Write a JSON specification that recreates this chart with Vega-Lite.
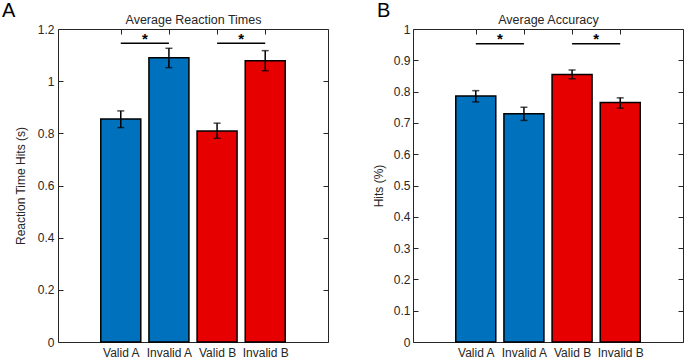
{
  "$schema": "https://vega.github.io/schema/vega-lite/v6.json",
  "autosize": {"type": "pad"},
  "padding": {"left": 2, "top": 0, "right": 0, "bottom": 0},
  "background": "white",
  "spacing": 85,
  "bounds": "flush",
  "config": {
    "font": "Liberation Sans",
    "view": {"stroke": null},
    "axis": {
      "grid": false,
      "labelFont": "Liberation Sans",
      "labelFontSize": 12,
      "labelColor": "#262626",
      "domainColor": "#262626",
      "domainWidth": 1,
      "tickColor": "#262626",
      "tickSize": -5,
      "titleFont": "Liberation Sans",
      "titleFontSize": 12,
      "titleFontWeight": "normal",
      "titleColor": "#262626"
    },
    "title": {"font": "Liberation Sans", "fontWeight": "normal", "color": "#000000"}
  },
  "datasets": {
    "rt": [
      {"pos": 1, "cond": "Valid A", "group": "A", "mean": 0.855, "lo": 0.822, "hi": 0.886},
      {"pos": 2, "cond": "Invalid A", "group": "A", "mean": 1.090, "lo": 1.052, "hi": 1.126},
      {"pos": 3, "cond": "Valid B", "group": "B", "mean": 0.809, "lo": 0.781, "hi": 0.839},
      {"pos": 4, "cond": "Invalid B", "group": "B", "mean": 1.078, "lo": 1.040, "hi": 1.117}
    ],
    "acc": [
      {"pos": 1, "cond": "Valid A", "group": "A", "mean": 0.786, "lo": 0.767, "hi": 0.803},
      {"pos": 2, "cond": "Invalid A", "group": "A", "mean": 0.729, "lo": 0.708, "hi": 0.750},
      {"pos": 3, "cond": "Valid B", "group": "B", "mean": 0.855, "lo": 0.841, "hi": 0.869},
      {"pos": 4, "cond": "Invalid B", "group": "B", "mean": 0.765, "lo": 0.747, "hi": 0.780}
    ],
    "sigRT": [
      {"from": 1, "to": 2, "mid": 1.5, "y": 1.145, "ys": 1.163, "label": "*"},
      {"from": 3, "to": 4, "mid": 3.5, "y": 1.145, "ys": 1.163, "label": "*"}
    ],
    "sigAcc": [
      {"from": 1, "to": 2, "mid": 1.5, "y": 0.953, "ys": 0.968, "label": "*"},
      {"from": 3, "to": 4, "mid": 3.5, "y": 0.953, "ys": 0.968, "label": "*"}
    ]
  },
  "hconcat": [
    {
      "width": 270,
      "height": 313,
      "title": {"text": "A", "anchor": "start", "frame": "group", "fontSize": 20, "dx": -56, "dy": 23, "offset": 0, "baseline": "alphabetic"},
      "layer": [
        {
          "data": {"name": "rt"},
          "mark": {"type": "bar", "width": 40, "stroke": "black", "strokeWidth": 1.5},
          "encoding": {
            "x": {"field": "pos", "type": "quantitative",
              "scale": {"domain": [-0.2, 5.2], "nice": false, "zero": false},
              "axis": {"orient": "bottom", "values": [1, 2, 3, 4], "title": null, "labelPadding": 10,
                "labelExpr": "datum.value == 1 ? 'Valid A' : datum.value == 2 ? 'Invalid A' : datum.value == 3 ? 'Valid B' : 'Invalid B'"}},
            "y": {"field": "mean", "type": "quantitative",
              "scale": {"domain": [0, 1.2], "nice": false},
              "axis": {"orient": "left", "values": [0, 0.2, 0.4, 0.6, 0.8, 1, 1.2], "format": "~g", "title": "Reaction Time Hits (s)", "labelPadding": 9, "titlePadding": 10}},
            "color": {"field": "group", "type": "nominal", "scale": {"domain": ["A", "B"], "range": ["#0072BD", "#E60000"]}, "legend": null}
          }
        },
        {
          "data": {"name": "rt"},
          "mark": {"type": "rule", "color": "black", "strokeWidth": 1.5},
          "encoding": {
            "x": {"field": "pos", "type": "quantitative",
              "axis": {"orient": "top", "values": [1, 2, 3, 4], "labels": false, "title": "Average Reaction Times", "titlePadding": 2, "titleFontSize": 12.5}},
            "y": {"field": "lo", "type": "quantitative",
              "axis": {"orient": "right", "values": [0, 0.2, 0.4, 0.6, 0.8, 1, 1.2], "labels": false, "title": null}},
            "y2": {"field": "hi"}
          }
        },
        {
          "data": {"name": "rt"},
          "mark": {"type": "tick", "orient": "horizontal", "size": 7, "thickness": 1.5, "color": "black"},
          "encoding": {
            "x": {"field": "pos", "type": "quantitative", "axis": null},
            "y": {"field": "lo", "type": "quantitative", "axis": null}
          }
        },
        {
          "data": {"name": "rt"},
          "mark": {"type": "tick", "orient": "horizontal", "size": 7, "thickness": 1.5, "color": "black"},
          "encoding": {
            "x": {"field": "pos", "type": "quantitative", "axis": null},
            "y": {"field": "hi", "type": "quantitative", "axis": null}
          }
        },
        {
          "data": {"name": "sigRT"},
          "mark": {"type": "rule", "color": "black", "strokeWidth": 1.5},
          "encoding": {
            "x": {"field": "from", "type": "quantitative", "axis": null},
            "x2": {"field": "to"},
            "y": {"field": "y", "type": "quantitative", "axis": null}
          }
        },
        {
          "data": {"name": "sigRT"},
          "mark": {"type": "text", "fontSize": 15, "fontWeight": "bold", "baseline": "middle", "align": "center", "color": "black"},
          "encoding": {
            "x": {"field": "mid", "type": "quantitative", "axis": null},
            "y": {"field": "ys", "type": "quantitative", "axis": null},
            "text": {"field": "label"}
          }
        }
      ]
    },
    {
      "width": 270,
      "height": 313,
      "title": {"text": "B", "anchor": "start", "frame": "group", "fontSize": 20, "dx": -36, "dy": 23, "offset": 0, "baseline": "alphabetic"},
      "layer": [
        {
          "data": {"name": "acc"},
          "mark": {"type": "bar", "width": 40, "stroke": "black", "strokeWidth": 1.5},
          "encoding": {
            "x": {"field": "pos", "type": "quantitative",
              "scale": {"domain": [-0.2, 5.2], "nice": false, "zero": false},
              "axis": {"orient": "bottom", "values": [1, 2, 3, 4], "title": null, "labelPadding": 10,
                "labelExpr": "datum.value == 1 ? 'Valid A' : datum.value == 2 ? 'Invalid A' : datum.value == 3 ? 'Valid B' : 'Invalid B'"}},
            "y": {"field": "mean", "type": "quantitative",
              "scale": {"domain": [0, 1], "nice": false},
              "axis": {"orient": "left", "values": [0, 0.1, 0.2, 0.3, 0.4, 0.5, 0.6, 0.7, 0.8, 0.9, 1], "format": "~g", "title": "Hits (%)", "labelPadding": 8, "titlePadding": 8}},
            "color": {"field": "group", "type": "nominal", "scale": {"domain": ["A", "B"], "range": ["#0072BD", "#E60000"]}, "legend": null}
          }
        },
        {
          "data": {"name": "acc"},
          "mark": {"type": "rule", "color": "black", "strokeWidth": 1.5},
          "encoding": {
            "x": {"field": "pos", "type": "quantitative",
              "axis": {"orient": "top", "values": [1, 2, 3, 4], "labels": false, "title": "Average Accuracy", "titlePadding": 2, "titleFontSize": 12.5}},
            "y": {"field": "lo", "type": "quantitative",
              "axis": {"orient": "right", "values": [0, 0.1, 0.2, 0.3, 0.4, 0.5, 0.6, 0.7, 0.8, 0.9, 1], "labels": false, "title": null}},
            "y2": {"field": "hi"}
          }
        },
        {
          "data": {"name": "acc"},
          "mark": {"type": "tick", "orient": "horizontal", "size": 7, "thickness": 1.5, "color": "black"},
          "encoding": {
            "x": {"field": "pos", "type": "quantitative", "axis": null},
            "y": {"field": "lo", "type": "quantitative", "axis": null}
          }
        },
        {
          "data": {"name": "acc"},
          "mark": {"type": "tick", "orient": "horizontal", "size": 7, "thickness": 1.5, "color": "black"},
          "encoding": {
            "x": {"field": "pos", "type": "quantitative", "axis": null},
            "y": {"field": "hi", "type": "quantitative", "axis": null}
          }
        },
        {
          "data": {"name": "sigAcc"},
          "mark": {"type": "rule", "color": "black", "strokeWidth": 1.5},
          "encoding": {
            "x": {"field": "from", "type": "quantitative", "axis": null},
            "x2": {"field": "to"},
            "y": {"field": "y", "type": "quantitative", "axis": null}
          }
        },
        {
          "data": {"name": "sigAcc"},
          "mark": {"type": "text", "fontSize": 15, "fontWeight": "bold", "baseline": "middle", "align": "center", "color": "black"},
          "encoding": {
            "x": {"field": "mid", "type": "quantitative", "axis": null},
            "y": {"field": "ys", "type": "quantitative", "axis": null},
            "text": {"field": "label"}
          }
        }
      ]
    }
  ]
}
